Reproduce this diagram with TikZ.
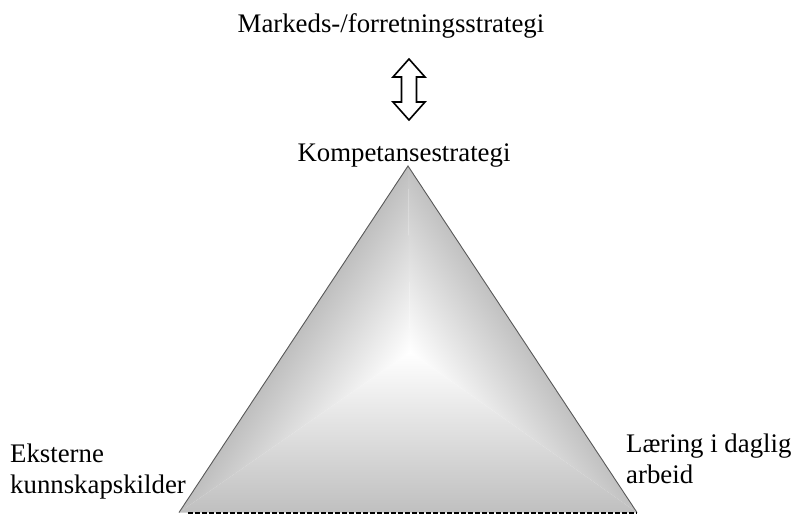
\documentclass[tikz,border=0pt]{standalone}
\usepackage{fontspec}
\setmainfont{Liberation Serif}
\usetikzlibrary{calc}
\definecolor{pyrgray}{gray}{0.75}

\begin{document}
\begin{tikzpicture}
  [x=1pt,y=1pt,
  lbl/.style={font=\fontsize{26.8}{31}\selectfont,inner sep=0pt},
  sideedge/.style={draw=black!65,line width=0.9pt},
  bottomedge/.style={draw=black,line width=2pt,dash pattern=on 5pt off 2pt},
  face/.style={top color=white,bottom color=pyrgray}]
  \useasboundingbox (0,0) rectangle (793,515);

  \node[lbl,anchor=base] (markeds) at (391,482) {Markeds-/forretningsstrategi};
  \node[lbl,anchor=base] (kompetanse) at (404,353) {Kompetansestrategi};
  \node[lbl,anchor=base west,align=left] (eksterne) at (10,22) {Eksterne\\kunnskapskilder};
  \node[lbl,anchor=base west,align=left] (laering) at (626,32) {Læring i daglig\\arbeid};

  \coordinate (top) at (408,349);
  \coordinate (left) at (179,2.5);
  \coordinate (right) at (637,2.5);
  \coordinate (mid) at (410,163);

  % faces of the pyramid
  \begin{scope}
    \clip (mid) -- (left) -- (top) -- cycle;
    \begin{scope}[transform canvas={rotate around={-123.4:(mid)}}]
      \shade[face] ($(mid)+(-400,-104)$) rectangle ($(mid)+(400,0)$);
      \fill[pyrgray] ($(mid)+(-400,-300)$) rectangle ($(mid)+(400,-103.5)$);
    \end{scope}
  \end{scope}
  \begin{scope}
    \clip (mid) -- (top) -- (right) -- cycle;
    \begin{scope}[transform canvas={rotate around={123.4:(mid)}}]
      \shade[face] ($(mid)+(-400,-104)$) rectangle ($(mid)+(400,0)$);
      \fill[pyrgray] ($(mid)+(-400,-300)$) rectangle ($(mid)+(400,-103.5)$);
    \end{scope}
  \end{scope}
  \begin{scope}
    \clip (mid) -- (right) -- (left) -- cycle;
    \shade[face] ($(mid)+(-400,-161)$) rectangle ($(mid)+(400,0)$);
  \end{scope}

  \draw[sideedge] (left) -- (top) -- (right);
  \draw[bottomedge] ($(left)+(9,-0.5)$) -- ($(right)+(0,-0.5)$);

  % double arrow
  \coordinate (arr) at (409,425.5);
  \draw[line width=1.6pt,line join=miter]
    ($(arr)+(0,30.5)$) -- ++(16,-18) -- ++(-8.5,0) -- ++(0,-25) -- ++(8.5,0)
    -- ++(-16,-18) -- ++(-16,18) -- ++(8.5,0) -- ++(0,25) -- ++(-8.5,0) -- cycle;
\end{tikzpicture}
\end{document}
